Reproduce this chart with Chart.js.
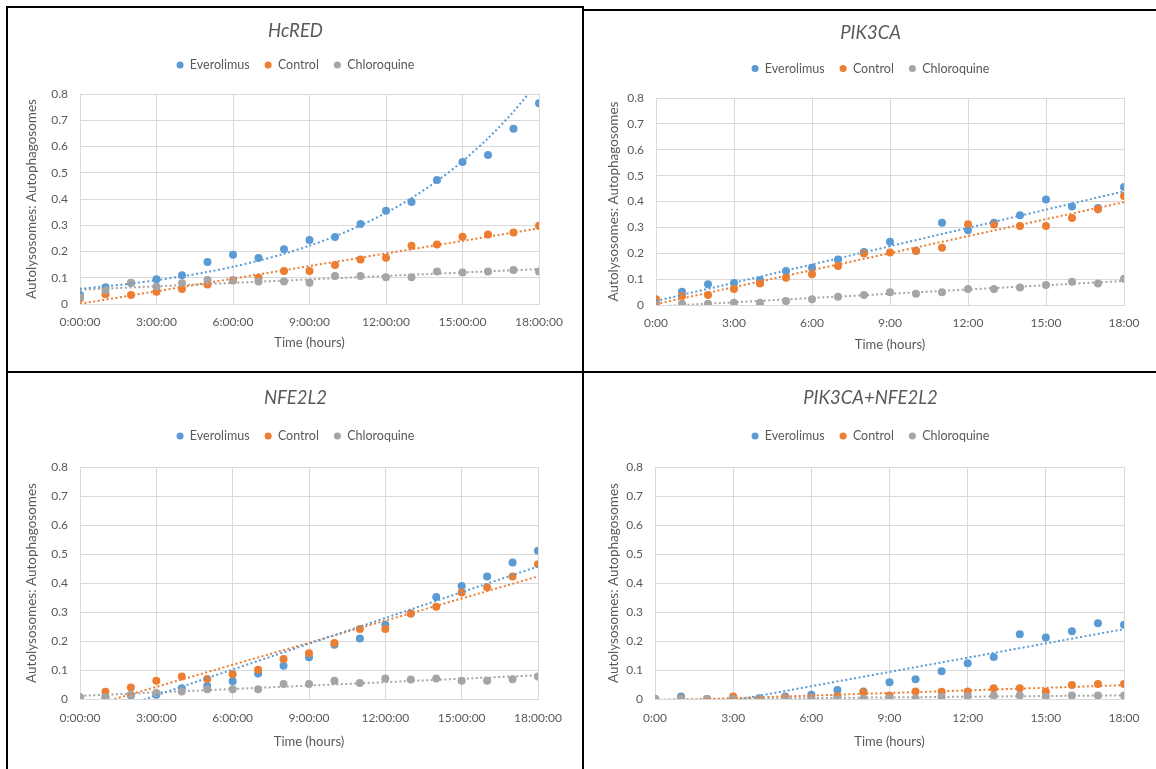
<!DOCTYPE html>
<html>
<head>
<meta charset="utf-8">
<script src="https://cdn.jsdelivr.net/npm/chart.js@4.4.1/dist/chart.umd.min.js"></script>
<style>
  html, body { margin: 0; padding: 0; background: #fff; }
  body { position: relative; width: 1156px; height: 769px; overflow: hidden; }
  .rule { position: absolute; background: #000; }
  canvas { position: absolute; }
</style>
</head>
<body>
<!-- panel frame lines -->
<div class="rule" style="left:6px;top:6px;width:2px;height:763px"></div>
<div class="rule" style="left:6px;top:6px;width:578px;height:2px"></div>
<div class="rule" style="left:582px;top:6px;width:2px;height:763px"></div>
<div class="rule" style="left:582px;top:9px;width:574px;height:2px"></div>
<div class="rule" style="left:6px;top:371px;width:1150px;height:2px"></div>

<canvas id="chartHcRED" width="573" height="362" style="left:9px;top:9px"></canvas>
<canvas id="chartPIK3CA" width="571" height="359" style="left:585px;top:12px"></canvas>
<canvas id="chartNFE2L2" width="573" height="395" style="left:9px;top:374px"></canvas>
<canvas id="chartBoth" width="571" height="395" style="left:585px;top:374px"></canvas>

<script>
// hours after treatment
var hours = [0, 1, 2, 3, 4, 5, 6, 7, 8, 9, 10, 11, 12, 13, 14, 15, 16, 17, 18];

var longTimeLabels = ['0:00:00', '3:00:00', '6:00:00', '9:00:00', '12:00:00', '15:00:00', '18:00:00'];
var shortTimeLabels = ['0:00', '3:00', '6:00', '9:00', '12:00', '15:00', '18:00'];
var yTickLabels = ['0', '0.1', '0.2', '0.3', '0.4', '0.5', '0.6', '0.7', '0.8'];

// HcRED
var hcredEverolimus = [0.034, 0.064, 0.08, 0.094, 0.11, 0.16, 0.188, 0.175, 0.209, 0.244, 0.255, 0.305, 0.355, 0.389, 0.472, 0.541, 0.568, 0.668, 0.765];
var hcredControl = [0.021, 0.037, 0.034, 0.047, 0.057, 0.074, 0.09, 0.1, 0.126, 0.126, 0.149, 0.17, 0.176, 0.222, 0.227, 0.256, 0.265, 0.272, 0.298];
var hcredChloroquine = [0.025, 0.053, 0.081, 0.066, 0.079, 0.091, 0.091, 0.086, 0.086, 0.081, 0.107, 0.107, 0.102, 0.102, 0.124, 0.12, 0.124, 0.13, 0.124];

// PIK3CA
var pik3caEverolimus = [0.005, 0.051, 0.08, 0.085, 0.096, 0.131, 0.144, 0.176, 0.205, 0.244, 0.21, 0.318, 0.289, 0.318, 0.347, 0.408, 0.381, 0.375, 0.456];
var pik3caControl = [0.022, 0.035, 0.039, 0.062, 0.083, 0.105, 0.119, 0.151, 0.199, 0.203, 0.209, 0.221, 0.312, 0.311, 0.305, 0.305, 0.336, 0.37, 0.421];
var pik3caChloroquine = [0.005, 0.005, 0.005, 0.009, 0.009, 0.015, 0.022, 0.032, 0.039, 0.049, 0.043, 0.049, 0.062, 0.062, 0.068, 0.077, 0.09, 0.083, 0.101];

// NFE2L2
var nfe2l2Everolimus = [0.002, 0.008, 0.012, 0.015, 0.037, 0.045, 0.061, 0.088, 0.115, 0.144, 0.187, 0.209, 0.256, 0.295, 0.352, 0.39, 0.422, 0.471, 0.511];
var nfe2l2Control = [0.005, 0.025, 0.04, 0.063, 0.078, 0.069, 0.085, 0.101, 0.138, 0.158, 0.193, 0.241, 0.241, 0.295, 0.318, 0.367, 0.385, 0.422, 0.465];
var nfe2l2Chloroquine = [0.006, 0.006, 0.015, 0.021, 0.026, 0.034, 0.034, 0.034, 0.052, 0.052, 0.063, 0.055, 0.071, 0.067, 0.071, 0.063, 0.063, 0.068, 0.078];

// PIK3CA+NFE2L2
var bothEverolimus = [0.0, 0.009, 0.0, 0.004, 0.003, 0.009, 0.015, 0.031, 0.026, 0.058, 0.068, 0.096, 0.123, 0.145, 0.223, 0.212, 0.234, 0.261, 0.256];
var bothControl = [0.0, 0.002, 0.0, 0.009, 0.0, 0.005, 0.005, 0.01, 0.023, 0.012, 0.026, 0.025, 0.026, 0.037, 0.037, 0.025, 0.048, 0.052, 0.052];
var bothChloroquine = [0.0, 0.0, 0.0, 0.0, 0.002, 0.003, 0.003, 0.002, 0.002, 0.003, 0.002, 0.008, 0.01, 0.012, 0.012, 0.008, 0.012, 0.012, 0.012];

var BLUE = '#5B9BD5';
var ORANGE = '#ED7D31';
var GREY = '#A5A5A5';
var INK = '#595959';
var GRID = '#D9D9D9';

Chart.defaults.font.family = 'Lato, "Open Sans", sans-serif';
Chart.defaults.color = INK;

// least squares, like the excel trendlines
function linearFit(xs, ys) {
    var n = xs.length, sx = 0, sy = 0, sxx = 0, sxy = 0;
    for (var i = 0; i < n; i++) {
        sx += xs[i]; sy += ys[i]; sxx += xs[i] * xs[i]; sxy += xs[i] * ys[i];
    }
    var b = (n * sxy - sx * sy) / (n * sxx - sx * sx);
    return { a: (sy - b * sx) / n, b: b };
}

function trendPoints(xs, ys, kind) {
    if (kind === 'exp') {
        var f = linearFit(xs, ys.map(function (v) { return Math.log(v); }));
        return xs.map(function (x) { return { x: x, y: Math.exp(f.a + f.b * x) }; });
    }
    var g = linearFit(xs, ys);
    var x0 = xs[0], x1 = xs[xs.length - 1];
    return [{ x: x0, y: g.a + g.b * x0 }, { x: x1, y: g.a + g.b * x1 }];
}

function makePanel(canvasId, title, series, xLabels, g) {
    var datasets = [];
    series.forEach(function (s, i) {
        datasets.push({
            type: 'scatter',
            label: s.label,
            data: hours.map(function (h, j) { return { x: h, y: s.values[j] }; }),
            backgroundColor: s.color,
            borderColor: s.color,
            borderWidth: 0,
            pointRadius: 4,
            pointHoverRadius: 4,
            order: 3 - i
        });
    });
    series.forEach(function (s) {
        datasets.push({
            type: 'line',
            label: s.label + ' trend',
            data: trendPoints(hours, s.values, s.trend),
            borderColor: s.color,
            borderWidth: 2,
            borderDash: [2, 2.5],
            pointRadius: 0,
            fill: false,
            tension: 0.3,
            order: 0
        });
    });

    var titleFont = 18.5;
    var titleHalf = titleFont * 1.2 / 2;
    var legendFont = 12.5;
    var legendTop = g.legendY - legendFont / 2 - 15;

    return new Chart(document.getElementById(canvasId), {
        data: { datasets: datasets },
        options: {
            responsive: false,
            animation: false,
            layout: { padding: 0 },
            plugins: {
                title: {
                    display: true,
                    text: title,
                    color: INK,
                    font: { size: titleFont, style: 'italic', weight: 'normal' },
                    padding: { top: g.titleY - titleHalf, bottom: legendTop - (g.titleY + titleHalf) }
                },
                legend: {
                    position: 'top',
                    labels: {
                        usePointStyle: true,
                        pointStyle: 'circle',
                        boxWidth: 7,
                        boxHeight: 5,
                        padding: 15,
                        color: INK,
                        font: { size: legendFont },
                        filter: function (item) { return item.datasetIndex < 3; },
                        sort: function (a, b) { return a.datasetIndex - b.datasetIndex; }
                    }
                },
                // empty spacer between legend and plot area
                subtitle: {
                    display: true,
                    text: [],
                    weight: 500,
                    padding: { top: g.plotT - (g.legendY + legendFont / 2 + 10), bottom: 0 }
                },
                tooltip: { enabled: false }
            },
            scales: {
                x: {
                    type: 'linear',
                    min: 0,
                    max: 18,
                    afterFit: function (scale) {
                        scale.height = g.h - g.plotB;
                        // keep the gap on the right of the plot without narrowing title and legend
                        scale.paddingRight = g.w - g.plotR;
                    },
                    ticks: {
                        stepSize: 3,
                        maxRotation: 0,
                        autoSkip: false,
                        padding: g.xTickY - g.plotB - 7.2,
                        color: INK,
                        font: { size: 12 },
                        callback: function (v) { return xLabels[Math.round(v / 3)]; }
                    },
                    grid: { color: GRID, drawTicks: false },
                    border: { color: GRID },
                    title: {
                        display: true,
                        text: 'Time (hours)',
                        color: INK,
                        font: { size: 13 },
                        padding: { top: 0, bottom: g.h - g.xTitleY - 7.8 }
                    }
                },
                y: {
                    type: 'linear',
                    min: 0,
                    max: 0.8,
                    afterFit: function (scale) { scale.width = g.plotL; },
                    ticks: {
                        stepSize: 0.1,
                        padding: 12,
                        color: INK,
                        font: { size: 12 },
                        callback: function (v) { return yTickLabels[Math.round(v * 10)]; }
                    },
                    grid: { color: GRID, drawTicks: false },
                    border: { color: GRID },
                    title: {
                        display: true,
                        text: 'Autolysosomes: Autophagosomes',
                        color: INK,
                        font: { size: 13.5 },
                        padding: { top: g.yTitleX - 8.1, bottom: 0 }
                    }
                }
            }
        }
    });
}

makePanel('chartHcRED', 'HcRED', [
    { label: 'Everolimus', values: hcredEverolimus, color: BLUE, trend: 'exp' },
    { label: 'Control', values: hcredControl, color: ORANGE, trend: 'linear' },
    { label: 'Chloroquine', values: hcredChloroquine, color: GREY, trend: 'linear' }
], longTimeLabels, { w: 573, h: 362, plotL: 71, plotR: 530, plotT: 85, plotB: 295, titleY: 22, legendY: 56, yTitleX: 23, xTickY: 313, xTitleY: 334 });

makePanel('chartPIK3CA', 'PIK3CA', [
    { label: 'Everolimus', values: pik3caEverolimus, color: BLUE, trend: 'linear' },
    { label: 'Control', values: pik3caControl, color: ORANGE, trend: 'linear' },
    { label: 'Chloroquine', values: pik3caChloroquine, color: GREY, trend: 'linear' }
], shortTimeLabels, { w: 571, h: 359, plotL: 71, plotR: 539, plotT: 86, plotB: 293, titleY: 21.5, legendY: 56.5, yTitleX: 29, xTickY: 311, xTitleY: 332.5 });

makePanel('chartNFE2L2', 'NFE2L2', [
    { label: 'Everolimus', values: nfe2l2Everolimus, color: BLUE, trend: 'linear' },
    { label: 'Control', values: nfe2l2Control, color: ORANGE, trend: 'linear' },
    { label: 'Chloroquine', values: nfe2l2Chloroquine, color: GREY, trend: 'linear' }
], longTimeLabels, { w: 573, h: 395, plotL: 71, plotR: 529, plotT: 93, plotB: 325, titleY: 24, legendY: 62, yTitleX: 23, xTickY: 344, xTitleY: 368 });

makePanel('chartBoth', 'PIK3CA+NFE2L2', [
    { label: 'Everolimus', values: bothEverolimus, color: BLUE, trend: 'linear' },
    { label: 'Control', values: bothControl, color: ORANGE, trend: 'linear' },
    { label: 'Chloroquine', values: bothChloroquine, color: GREY, trend: 'linear' }
], shortTimeLabels, { w: 571, h: 395, plotL: 70, plotR: 539, plotT: 93, plotB: 325, titleY: 24.5, legendY: 62, yTitleX: 29, xTickY: 344, xTitleY: 368 });
</script>
</body>
</html>
